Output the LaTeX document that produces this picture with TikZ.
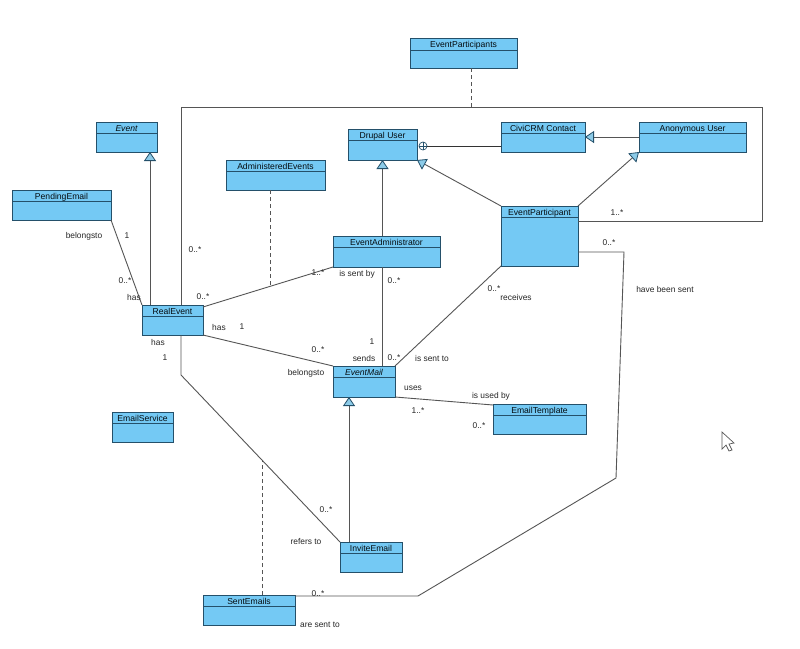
\documentclass[tikz,border=0pt]{standalone}
\usepackage{fontspec}
\setmainfont{Liberation Sans}
\usetikzlibrary{arrows.meta,calc}
\definecolor{cFill}{HTML}{74C9F4}
\definecolor{cEdge}{HTML}{24506A}
\definecolor{cLine}{HTML}{555555}
\definecolor{cTri}{HTML}{8CCBE8}
\tikzset{
  box/.style={draw=cEdge,fill=cFill,line width=0.9pt,inner sep=0pt,outer sep=0pt,rectangle},
  headline/.style={draw=cEdge,line width=0.9pt},
  title/.style={inner sep=0pt,outer sep=0pt,text height=6pt,text depth=1.2pt,font=\fontsize{8.6}{9}\selectfont,text=black!85!cEdge},
  lab/.style={inner sep=0pt,outer sep=0pt,font=\fontsize{8.4}{9}\selectfont,text=black!85},
  assoc/.style={draw=cLine,line width=0.9pt},
  dep/.style={draw=cLine,line width=0.9pt,dash pattern=on 4pt off 3pt},
  gen/.style={draw=cLine,line width=0.9pt,-{Triangle[length=9pt,width=12pt,fill=cTri,color=cEdge,line width=0.8pt]}},
}
\newcommand{\classbox}[7]{%
  \node[box,minimum width={(#4-#2)*1pt},minimum height={(#5-#3)*1pt}] (#1) at ({(#2+#4)/2},{(#3+#5)/2}) {};
  \draw[headline] ([yshift=-#6]#1.north west) -- ([yshift=-#6]#1.north east);
  \node[title] (#1-t) at ([yshift=-#6/2-1.5]#1.north) {#7};
}
\newcommand{\lbl}[4]{\node[lab] (#1) at (#2,#3) {#4};}
\begin{document}
\begin{tikzpicture}[x=1pt,y=-1pt]
\useasboundingbox[fill=white] (0,0) rectangle (800,648);
\classbox{participants}{410}{38}{517}{68}{12}{EventParticipants}
\classbox{event}{96}{122}{157}{152}{11}{\itshape Event}
\classbox{pending}{12}{190}{111}{220}{11}{PendingEmail}
\classbox{admined}{226}{160}{325}{190}{11}{AdministeredEvents}
\classbox{drupal}{348}{129}{417}{160}{11}{Drupal User}
\classbox{civi}{501}{122}{585}{152}{11}{CiviCRM Contact}
\classbox{anon}{639}{122}{746}{152}{11}{Anonymous User}
\classbox{eparticipant}{501}{206}{578}{266}{11}{EventParticipant}
\classbox{eadmin}{333}{236}{440}{267}{11}{EventAdministrator}
\classbox{real}{142}{305}{203}{335}{11}{RealEvent}
\classbox{mail}{333}{366}{395}{397}{11}{\itshape EventMail}
\classbox{service}{112}{412}{173}{442}{11}{EmailService}
\classbox{template}{493}{404}{586}{434}{11}{EmailTemplate}
\classbox{invite}{340}{542}{402}{572}{11}{InviteEmail}
\classbox{sent}{203}{595}{295}{625}{11}{SentEmails}

% bends
\coordinate (bigA) at (181,107);
\coordinate (bigB) at (762,107);
\coordinate (bigC) at (762,221);
\coordinate (inviteBend) at (181,375);
\coordinate (tallA) at (624,252);
\coordinate (tallB) at (616,478);
\coordinate (tallC) at (418,596);
\coordinate (joinBig) at (471,107);
\coordinate (joinAdm) at (270,286);
\coordinate (joinSent) at (262,460);

% generalisations
\draw[gen] ([xshift=8]real.north west) -- ([xshift=8]real.north west |- event.south);
\draw[gen] ([xshift=-4]eadmin.north) -- ([xshift=-4]eadmin.north |- drupal.south);
\draw[gen] (eparticipant.north west) -- (drupal.south east);
\draw[gen] (eparticipant.north east) -- (anon.south west);
\draw[gen] (anon.west) -- (civi.east);
\draw[gen] ([xshift=9]invite.north west) -- ([xshift=9]invite.north west |- mail.south);

% associations
\draw[assoc] (pending.south east) -- (real.north west);
\draw[assoc] ([xshift=-22]real.north east) -- (bigA) -- (bigB) -- (bigC) -- (eparticipant.east |- bigC);
\draw[assoc] ([yshift=-2]real.north east) -- (eadmin.south west);
\draw[assoc] ([xshift=-4]eadmin.south) -- ([xshift=-4]eadmin.south |- mail.north);
\draw[assoc] (real.south east) -- (mail.north west);
\draw[assoc] (eparticipant.south west) -- (mail.north east);
\draw[assoc] (mail.south east) -- ([yshift=-1]template.north west);
\draw[assoc] (eparticipant.east |- tallA) -- (tallA) -- (tallB) -- (tallC) -- ([yshift=-1]sent.north east);
\draw[assoc] ([xshift=-22]real.south east) -- (inviteBend) -- (invite.north west);

% dependencies
\draw[dep] (participants.south -| joinBig) -- (joinBig);
\draw[dep] (admined.south -| joinAdm) -- (joinAdm);
\draw[dep] (sent.north -| joinSent) -- (joinSent);

% containment
\node[circle,draw=cEdge,fill=white,line width=0.7pt,minimum size=8pt,inner sep=0pt,outer sep=0pt] (cont) at (423,146) {};
\draw[cEdge,line width=0.5pt] (cont.north) -- (cont.south) (cont.west) -- (cont.east);
\draw[assoc,draw=black!80] (cont.east) -- (cont.east -| civi.west);

% labels
\lbl{l01}{84}{236}{belongsto}
\lbl{l02}{127}{236}{1}
\lbl{l03}{125}{281}{0..*}
\lbl{l04}{134}{297}{has}
\lbl{l05}{195}{250}{0..*}
\lbl{l06}{203}{297}{0..*}
\lbl{l07}{318}{273}{1..*}
\lbl{l08}{357}{274}{is sent by}
\lbl{l09}{394}{281}{0..*}
\lbl{l10}{494}{289}{0..*}
\lbl{l11}{516}{297}{receives}
\lbl{l12}{617}{213}{1..*}
\lbl{l13}{609}{243}{0..*}
\lbl{l14}{665}{289}{have been sent}
\lbl{l15}{219}{327}{has}
\lbl{l16}{242}{327}{1}
\lbl{l17}{158}{342}{has}
\lbl{l18}{165}{358}{1}
\lbl{l19}{372}{342}{1}
\lbl{l20}{364}{358}{sends}
\lbl{l21}{318}{350}{0..*}
\lbl{l22}{394}{358}{0..*}
\lbl{l23}{306}{373}{belongsto}
\lbl{l24}{432}{358}{is sent to}
\lbl{l25}{413}{388}{uses}
\lbl{l26}{491}{396}{is used by}
\lbl{l27}{418}{411}{1..*}
\lbl{l28}{479}{426}{0..*}
\lbl{l29}{326}{510}{0..*}
\lbl{l30}{306}{541}{refers to}
\lbl{l31}{318}{594}{0..*}
\lbl{l32}{320}{625}{are sent to}

% mouse pointer
\draw[fill=white,draw=black!65,line width=0.7pt,line join=miter]
  (722,432) -- (722,449) -- (726,445) -- (729,451) -- (732,450) -- (729,444) -- (734,443) -- cycle;
\end{tikzpicture}
\end{document}
